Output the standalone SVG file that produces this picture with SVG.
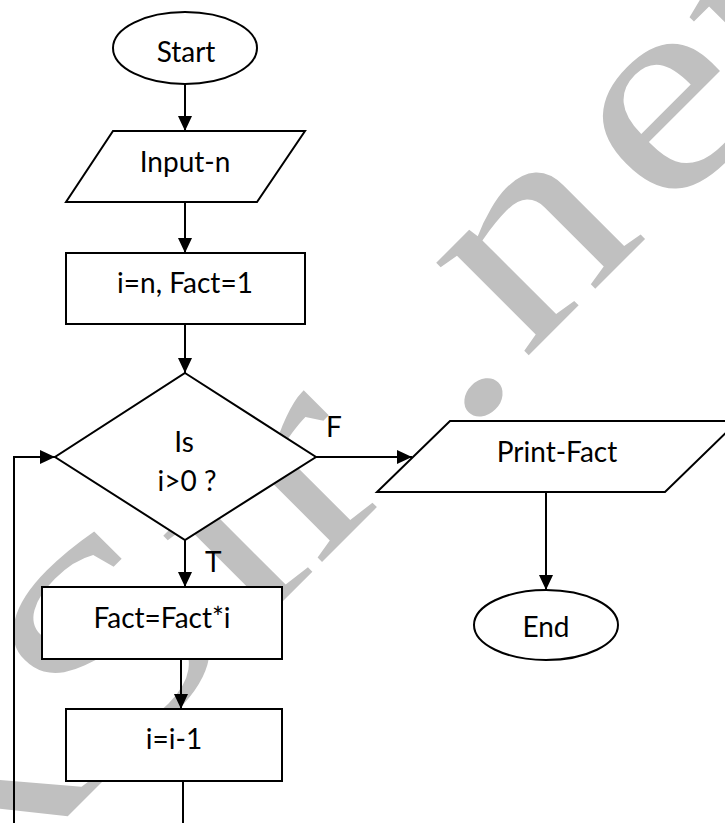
<svg xmlns="http://www.w3.org/2000/svg" width="725" height="823" viewBox="0 0 725 823">
  <style>
    .shape { fill: #ffffff; stroke: #000000; stroke-width: 2; }
    .lbl { font-family: Lato, "Liberation Sans", sans-serif; font-size: 28px; fill: #000000; text-anchor: middle; }
    .tag { font-family: Lato, "Liberation Sans", sans-serif; font-size: 28px; fill: #000000; }
    .edge { fill: none; stroke: #000000; stroke-width: 2; }
    .wm { font-family: "Liberation Serif", "Times New Roman", serif; font-size: 285px; fill: #c0c0c0; }
  </style>
  <defs>
    <marker id="arrow" markerUnits="userSpaceOnUse" markerWidth="15" markerHeight="14" refX="15" refY="7" orient="auto" viewBox="0 0 15 14">
      <path d="M0,0 L15,7 L0,14 Z" fill="#000000"/>
    </marker>
  </defs>

  <rect width="725" height="823" fill="#ffffff"/>

  <!-- background watermark -->
  <g id="watermark" transform="translate(492,392) rotate(-45) scale(1.25,1)">
    <text class="wm" x="-625 -435 -277 -198 -43.5 35 194 321" y="0 0 0 0 10.6 0 0 0">RSir.net</text>
  </g>

  <!-- connectors -->
  <g id="connectors">
    <path class="edge" d="M185,84 V131" marker-end="url(#arrow)"/>
    <path class="edge" d="M185,202 V253" marker-end="url(#arrow)"/>
    <path class="edge" d="M185,324 V373" marker-end="url(#arrow)"/>
    <path class="edge" d="M316,457 H412" marker-end="url(#arrow)"/>
    <path class="edge" d="M185,540 V587" marker-end="url(#arrow)"/>
    <path class="edge" d="M181,659 V709" marker-end="url(#arrow)"/>
    <path class="edge" d="M183,781 V823"/>
    <path class="edge" d="M14,823 V457 H55" marker-end="url(#arrow)"/>
    <path class="edge" d="M546,492 V590" marker-end="url(#arrow)"/>
    <text class="tag" x="326" y="437">F</text>
    <text class="tag" x="205" y="572">T</text>
  </g>

  <g id="start">
    <ellipse class="shape" cx="185" cy="48" rx="72" ry="36"/>
    <text class="lbl" x="186" y="62">Start</text>
  </g>

  <g id="input">
    <polygon class="shape" points="113,131 305,131 257,202 66,202"/>
    <text class="lbl" x="185" y="172">Input-n</text>
  </g>

  <g id="init">
    <rect class="shape" x="66" y="253" width="239" height="71"/>
    <text class="lbl" x="185" y="293">i=n, Fact=1</text>
  </g>

  <g id="decision">
    <polygon class="shape" points="185,373 316,457 185,540 55,457"/>
    <text class="lbl" x="184" y="452">Is</text>
    <text class="lbl" x="187" y="491">i&gt;0 ?</text>
  </g>

  <g id="print">
    <polygon class="shape" points="450,421 738,421 665,492 377,492"/>
    <text class="lbl" x="557" y="462">Print-Fact</text>
  </g>

  <g id="end">
    <ellipse class="shape" cx="546" cy="625" rx="72" ry="35"/>
    <text class="lbl" x="546" y="637">End</text>
  </g>

  <g id="multiply">
    <rect class="shape" x="42" y="587" width="240" height="72"/>
    <text class="lbl" x="162" y="628">Fact=Fact*i</text>
  </g>

  <g id="decrement">
    <rect class="shape" x="66" y="709" width="216" height="72"/>
    <text class="lbl" x="174" y="749">i=i-1</text>
  </g>
</svg>
